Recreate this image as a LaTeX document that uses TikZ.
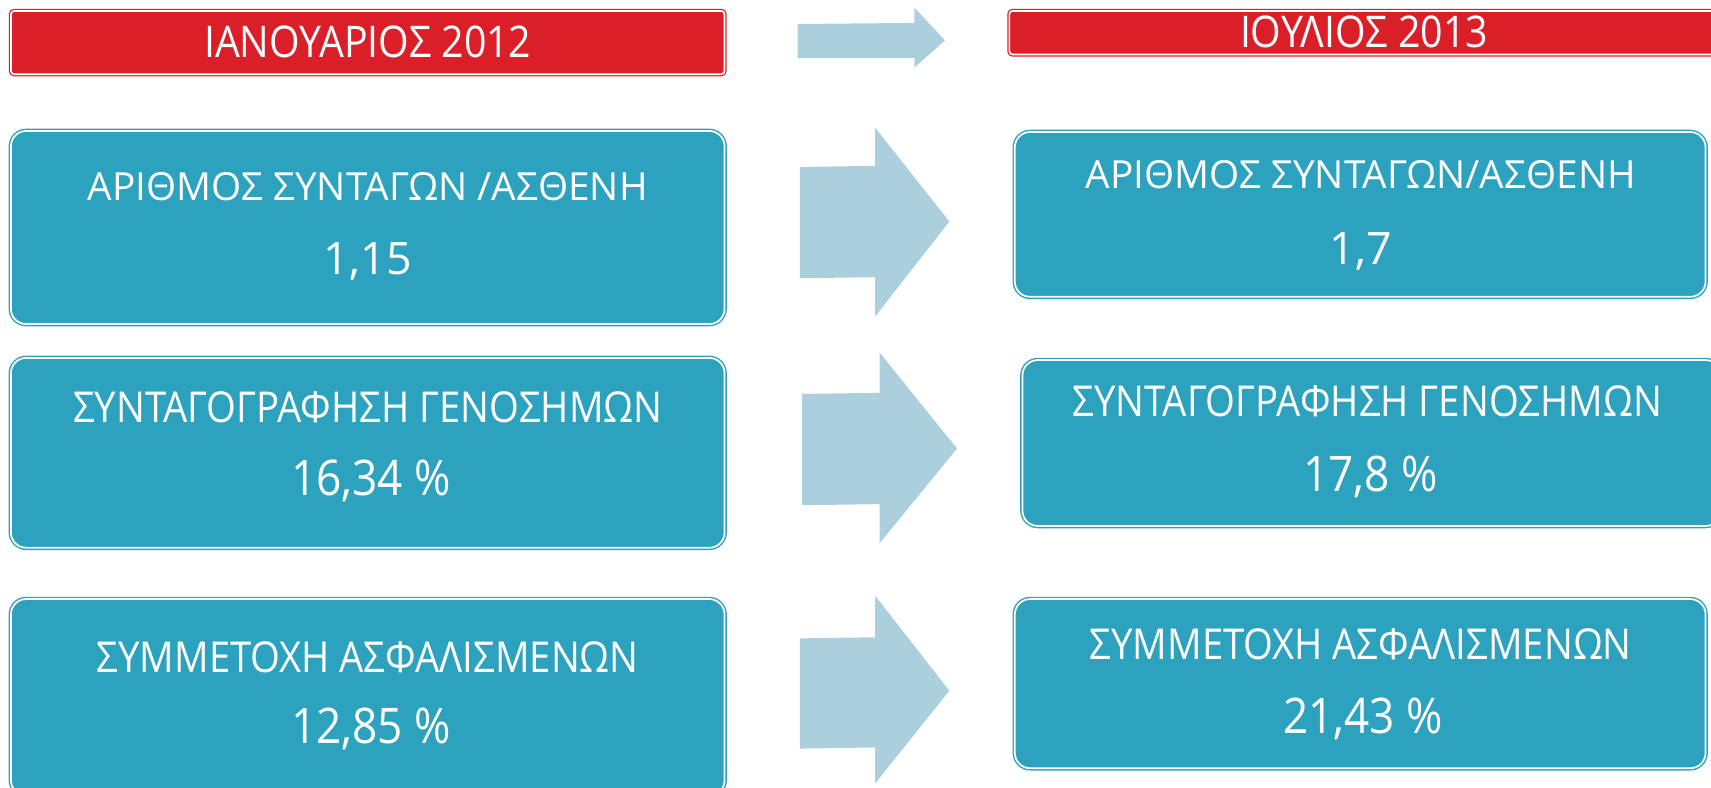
\documentclass[tikz,border=0pt]{standalone}
\usepackage{fontspec}
\setmainfont{Open Sans}
\newfontfamily\narrowsans[FakeStretch=0.9]{Open Sans}
\definecolor{barred}{HTML}{DA1F28}
\definecolor{boxteal}{HTML}{2DA2BF}
\definecolor{arrowblue}{HTML}{ACCFDD}

\begin{document}
\begin{tikzpicture}[x=1pt, y=-1pt,
    redbar/.style={draw=barred, double=white, double distance=1.6pt, line width=1.1pt, fill=barred, rounded corners=3pt, inner sep=0pt},
    tealbox/.style={draw=boxteal, double=white, double distance=1.6pt, line width=1.3pt, fill=boxteal, rounded corners=14pt, inner sep=0pt},
    bartext/.style={text=white, font=\narrowsans\fontsize{40}{44}\selectfont},
    widetitle/.style={text=white, font=\fontsize{35.5}{40}\selectfont},
    widevalue/.style={text=white, font=\fontsize{41}{46}\selectfont},
    narrowtitle/.style={text=white, font=\narrowsans\fontsize{39}{44}\selectfont},
    narrowvalue/.style={text=white, font=\narrowsans\fontsize{45}{50}\selectfont},
    bigarrow/.style={fill=arrowblue}]
    \useasboundingbox (0,0) rectangle (1568,722);

    % headers
    \node[redbar, minimum width=654, minimum height=58] (jan) at (337,39) {};
    \node[bartext] (jantext) at (337,38) {ΙΑΝΟΥΑΡΙΟΣ 2012};
    \node[redbar, minimum width=700, minimum height=40] (jul) at (1275,30) {};
    \node[bartext] (jultext) at (1250,29) {ΙΟΥΛΙΟΣ 2013};
    \fill[bigarrow] (731,22) -- (838,21) -- (838,7) -- (866,37) -- (838,62) -- (838,53) -- (731,53) -- cycle;

    % row 1
    \node[tealbox, minimum width=654, minimum height=177] (janrx) at (337,208.5) {};
    \node[widetitle] (janrxtitle) at (337,171) {ΑΡΙΘΜΟΣ ΣΥΝΤΑΓΩΝ /ΑΣΘΕΝΗ};
    \node[widevalue] (janrxvalue) at (337,240) {1,15};
    \node[tealbox, minimum width=633, minimum height=151] (julrx) at (1246.5,196.5) {};
    \node[widetitle] (julrxtitle) at (1247,160) {ΑΡΙΘΜΟΣ ΣΥΝΤΑΓΩΝ/ΑΣΘΕΝΗ};
    \node[widevalue] (julrxvalue) at (1247,230) {1,7};
    \fill[bigarrow] (733,153) -- (802,152) -- (802,117) -- (870,203) -- (802,290) -- (802,254) -- (733,255) -- cycle;

    % row 2
    \node[tealbox, minimum width=654, minimum height=174] (jangen) at (337,415) {};
    \node[narrowtitle] (jangentitle) at (337,373) {ΣΥΝΤΑΓΟΓΡΑΦΗΣΗ ΓΕΝΟΣΗΜΩΝ};
    \node[narrowvalue] (jangenvalue) at (340,441) {16,34 \%};
    \node[tealbox, minimum width=640, minimum height=152] (julgen) at (1257,406) {};
    \node[narrowtitle] (julgentitle) at (1253,368) {ΣΥΝΤΑΓΟΓΡΑΦΗΣΗ ΓΕΝΟΣΗΜΩΝ};
    \node[narrowvalue] (julgenvalue) at (1256,437) {17,8 \%};
    \fill[bigarrow] (735,361) -- (806,360) -- (806,323) -- (877,411) -- (806,498) -- (806,462) -- (735,463) -- cycle;

    % row 3
    \node[tealbox, minimum width=654, minimum height=180] (janins) at (337,639) {};
    \node[narrowtitle] (janinstitle) at (337,602) {ΣΥΜΜΕΤΟΧΗ ΑΣΦΑΛΙΣΜΕΝΩΝ};
    \node[narrowvalue] (janinsvalue) at (340,668) {12,85 \%};
    \node[tealbox, minimum width=633, minimum height=155] (julins) at (1246.5,626.5) {};
    \node[narrowtitle] (julinstitle) at (1247,590) {ΣΥΜΜΕΤΟΧΗ ΑΣΦΑΛΙΣΜΕΝΩΝ};
    \node[narrowvalue] (julinsvalue) at (1249,659) {21,43 \%};
    \fill[bigarrow] (733,585) -- (802,584) -- (802,546) -- (870,633) -- (802,718) -- (802,685) -- (733,686) -- cycle;

\end{tikzpicture}
\end{document}
